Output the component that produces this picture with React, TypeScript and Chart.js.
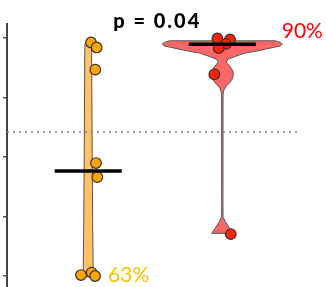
import React, { useEffect, useRef } from 'react';
import { Chart, registerables } from 'chart.js';

Chart.register(...registerables);

// ---- data ----
const groupPositions = [1, 2];
const yTicks = [0, 25, 50, 75, 100];

const orangeValues = [98.0, 95.9, 86.6, 47.4, 41.5, 0.4, 1.4, 0.0];
const orangeJitter = [0.021, 0.063, 0.053, 0.058, 0.068, -0.054, 0.026, 0.051];
const redValues = [99.7, 99.3, 97.4, 95.6, 84.6, 17.6];
const redJitter = [-0.037, 0.057, 0.028, -0.027, -0.06, 0.063];

const medians = [44.1, 97.2];
const referenceLine = 60.4;

const orangeViolinValues = [-0.3, 0.3, 3, 20, 50, 80, 95, 97.2, 97.8, 98.0];
const orangeViolinDensity = [3, 5, 5, 4.5, 4, 3.6, 3.4, 3.2, 2.5, 0];

const redViolinValues = [17.9, 20.0, 22.8, 24.9, 30, 76.0, 77.6, 78.8, 79.7, 81.0, 82.7, 84.3, 86.1, 87.7, 89.8, 90.9, 92.0, 93.5, 94.5, 96.0, 96.5, 97.4, 98.0, 98.7];
const redViolinDensity = [10.5, 7.3, 3, 0.7, 0.6, 0.7, 1.2, 2.5, 4, 7, 10, 11, 10.5, 8, 4, 5.6, 12, 22, 35.6, 52, 58, 60, 58, 53];

const pValueLabel = 'p = 0.04';
const percentLabels = ['63%', '90%'];

// ---- styles / layout ----
const DENSITY_TO_X = 1 / 134.1;
const MEDIAN_HALF = 0.25;
const REF_END = 2.58;
const X_MIN = 0.3945;
const X_MAX = 2.773;
const Y_MIN = -4.62;
const Y_MAX = 105.75;

const violins = [
  { pos: groupPositions[0], values: orangeViolinValues, density: orangeViolinDensity, fill: '#FFC266' },
  { pos: groupPositions[1], values: redViolinValues, density: redViolinDensity, fill: '#FF6666' },
];

const violinPlugin = {
  id: 'violins',
  beforeDatasetsDraw(chart: any) {
    const { ctx, scales } = chart;
    const xs = scales.x;
    const ys = scales.y;
    ctx.save();
    for (const v of violins) {
      ctx.beginPath();
      for (let i = 0; i < v.values.length; i++) {
        const px = xs.getPixelForValue(v.pos + v.density[i] * DENSITY_TO_X);
        const py = ys.getPixelForValue(v.values[i]);
        if (i === 0) ctx.moveTo(px, py);
        else ctx.lineTo(px, py);
      }
      for (let i = v.values.length - 1; i >= 0; i--) {
        const px = xs.getPixelForValue(v.pos - v.density[i] * DENSITY_TO_X);
        const py = ys.getPixelForValue(v.values[i]);
        ctx.lineTo(px, py);
      }
      ctx.closePath();
      ctx.fillStyle = v.fill;
      ctx.fill();
      ctx.lineWidth = 1;
      ctx.strokeStyle = '#555555';
      ctx.lineJoin = 'round';
      ctx.stroke();
    }
    ctx.restore();
  },
};

const textPlugin = {
  id: 'texts',
  afterDraw(chart: any) {
    const { ctx, scales } = chart;
    const xs = scales.x;
    const ys = scales.y;
    ctx.save();
    ctx.textBaseline = 'alphabetic';
    ctx.font = '900 20px Lato';
    ctx.fillStyle = '#000000';
    ctx.textAlign = 'center';
    (ctx as any).letterSpacing = '2px';
    ctx.fillText(pValueLabel, xs.getPixelForValue(1.5) + 2, ys.getPixelForValue(104.1));
    (ctx as any).letterSpacing = '0px';
    ctx.font = '21px Lato';
    ctx.textAlign = 'left';
    ctx.fillStyle = '#FFC000';
    ctx.fillText(percentLabels[0], xs.getPixelForValue(1.148), ys.getPixelForValue(-2.4));
    ctx.fillStyle = '#FF0000';
    ctx.fillText(percentLabels[1], xs.getPixelForValue(2.443), ys.getPixelForValue(99.7));
    ctx.restore();
  },
};

export default function App() {
  const ref = useRef<HTMLCanvasElement | null>(null);

  useEffect(() => {
    document.body.style.margin = '0';
    if (!ref.current) return;
    const orangePts = orangeValues.map((y, i) => ({ x: groupPositions[0] + orangeJitter[i], y }));
    const redPts = redValues.map((y, i) => ({ x: groupPositions[1] + redJitter[i], y }));
    const medianSets = medians.map((m, i) => ({
      type: 'line' as const,
      data: [
        { x: groupPositions[i] - MEDIAN_HALF, y: m },
        { x: groupPositions[i] + MEDIAN_HALF, y: m },
      ],
      borderColor: '#000000',
      borderWidth: 3.5,
      pointRadius: 0,
      showLine: true,
      order: 0,
    }));

    const chart = new Chart(ref.current, {
      type: 'scatter',
      data: {
        datasets: [
          {
            type: 'line',
            data: [
              { x: X_MIN, y: referenceLine },
              { x: REF_END, y: referenceLine },
            ],
            borderColor: '#808080',
            borderWidth: 1.5,
            borderDash: [2, 4],
            pointRadius: 0,
            showLine: true,
            order: 3,
          } as any,
          {
            data: orangePts,
            backgroundColor: '#FFA500',
            borderColor: '#333333',
            borderWidth: 1.2,
            pointRadius: 5.3,
            order: 1,
          },
          {
            data: redPts,
            backgroundColor: '#FF2200',
            borderColor: '#333333',
            borderWidth: 1.2,
            pointRadius: 5.3,
            order: 1,
          },
          ...(medianSets as any[]),
        ],
      },
      options: {
        animation: false,
        responsive: false,
        layout: { autoPadding: false, padding: { left: 3, top: 24, right: 0, bottom: 0 } },
        plugins: { legend: { display: false }, tooltip: { enabled: false } },
        scales: {
          x: { type: 'linear', min: X_MIN, max: X_MAX, display: false },
          y: {
            type: 'linear',
            min: Y_MIN,
            max: Y_MAX,
            afterBuildTicks: (axis: any) => {
              axis.ticks = yTicks.map((v) => ({ value: v }));
            },
            ticks: { display: false },
            grid: {
              drawOnChartArea: false,
              drawTicks: true,
              tickLength: 4,
              color: '#555555',
              lineWidth: 1.5,
            },
            border: { display: true, color: '#444444', width: 2 },
          },
        },
      },
      plugins: [violinPlugin, textPlugin],
    });
    return () => chart.destroy();
  }, []);

  return (
    <div style={{ width: 326, height: 287 }}>
      <canvas ref={ref} width={326} height={287} style={{ display: 'block' }} />
    </div>
  );
}
